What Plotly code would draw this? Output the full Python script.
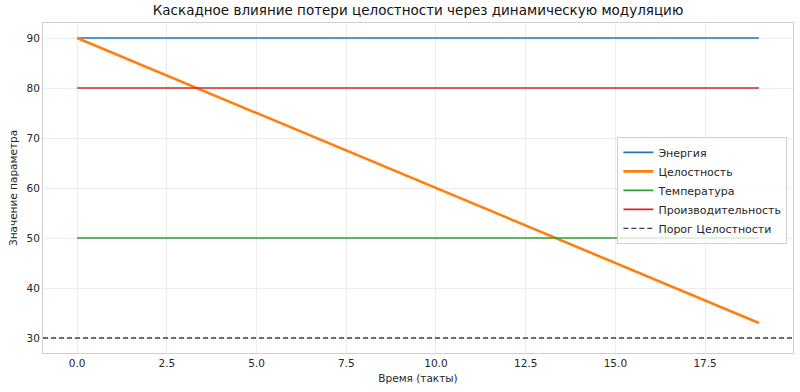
import plotly.graph_objects as go

time_steps = list(range(20))
energy = [90] * 20
integrity = [90, 87, 84, 81, 78, 75, 72, 69, 66, 63, 60, 57, 54, 51, 48, 45, 42, 39, 36, 33]
temperature = [50] * 20
productivity = [80] * 20
threshold = 30

x_range = [-0.95, 19.95]
y_range = [27, 93]
x_ticks = [0, 2.5, 5, 7.5, 10, 12.5, 15, 17.5]
x_tick_labels = ["0.0", "2.5", "5.0", "7.5", "10.0", "12.5", "15.0", "17.5"]
y_ticks = [30, 40, 50, 60, 70, 80, 90]

fig = go.Figure()
fig.add_trace(go.Scatter(x=time_steps, y=energy, mode="lines", name="Энергия",
                         line=dict(color="#1f77b4", width=1.6)))
fig.add_trace(go.Scatter(x=time_steps, y=integrity, mode="lines", name="Целостность",
                         line=dict(color="#ff7f0e", width=2.6)))
fig.add_trace(go.Scatter(x=time_steps, y=temperature, mode="lines", name="Температура",
                         line=dict(color="#2ca02c", width=1.6)))
fig.add_trace(go.Scatter(x=time_steps, y=productivity, mode="lines", name="Производительность",
                         line=dict(color="#d62728", width=1.6)))
fig.add_trace(go.Scatter(x=x_range, y=[threshold, threshold], mode="lines", name="Порог Целостности",
                         line=dict(color="rgba(0,0,0,0.75)", width=1.4, dash="5px,3px")))

axis_common = dict(showline=True, mirror=True, linecolor="#d0d0d0", linewidth=1,
                   showgrid=True, gridcolor="#ececec", gridwidth=1, zeroline=False,
                   ticks="", tickfont=dict(family="DejaVu Sans", size=10.5, color="#262626"))

fig.update_layout(
    width=800, height=392,
    margin=dict(l=43, r=7, t=23, b=39),
    paper_bgcolor="white", plot_bgcolor="white",
    title=dict(text="Каскадное влияние потери целостности через динамическую модуляцию",
               x=0.5, xref="paper", xanchor="center", y=0.985, yanchor="top",
               font=dict(family="DejaVu Sans", size=13.5, color="#111111")),
    font=dict(family="DejaVu Sans", color="#262626"),
    xaxis=dict(range=x_range, tickvals=x_ticks, ticktext=x_tick_labels,
               title=dict(text="Время (такты)", font=dict(size=10.5), standoff=7), **axis_common),
    yaxis=dict(range=y_range, tickvals=y_ticks,
               title=dict(text="Значение параметра", font=dict(size=10.5), standoff=6), **axis_common),
    legend=dict(x=0.9925, xanchor="right", y=0.655, yanchor="top",
                bgcolor="rgba(255,255,255,0.8)", bordercolor="#d0d0d0", borderwidth=1,
                font=dict(family="DejaVu Sans", size=11, color="#262626"),
                tracegroupgap=0, itemwidth=30),
    showlegend=True,
)

fig.write_html("out.html")
